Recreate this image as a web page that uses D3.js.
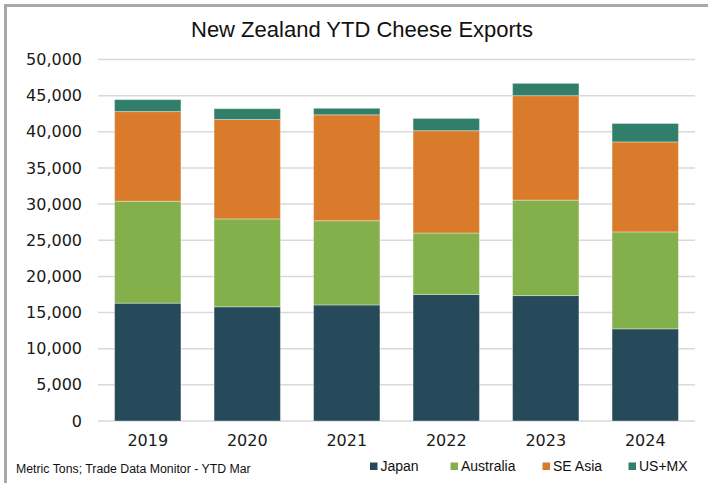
<!DOCTYPE html>
<html><head><meta charset="utf-8">
<script src="https://cdn.jsdelivr.net/npm/d3@7"></script>
<style>body{margin:0;background:#fff}svg{display:block}</style>
</head><body><svg id="c" width="708" height="483"></svg>
<script>
const years = ["2019","2020","2021","2022","2023","2024"];
const seriesNames = ["Japan","Australia","SE Asia","US+MX"];
const japan     = [16300, 15800, 16050, 17500, 17350, 12750];
const australia = [14100, 12150, 11650,  8500, 13200, 13400];
const seAsia    = [12400, 13750, 14650, 14150, 14450, 12450];
const usmx      = [ 1650,  1500,   900,  1700,  1700,  2550];
const yTicks = [0,5000,10000,15000,20000,25000,30000,35000,40000,45000,50000];
const colors = ["#264a5a","#84b04c","#da7b2c","#317f6a"];
const title = "New Zealand YTD Cheese Exports";
const note = "Metric Tons; Trade Data Monitor - YTD Mar";

const svg = d3.select("#c");
// frame
svg.append("path").attr("d","M5.5,490 V5.5 H720").attr("fill","none")
  .attr("stroke","#a9a9a9").attr("stroke-width",3);

const x = d3.scaleBand().domain(years).range([98,695]).paddingInner(0.333).paddingOuter(0.1665);
const y = d3.scaleLinear().domain([0,50000]).range([421,59.5]);

// gridlines
svg.append("g").selectAll("line").data(yTicks).join("line")
  .attr("x1",98).attr("x2",695).attr("y1",d=>y(d)).attr("y2",d=>y(d))
  .attr("stroke","#d9d9d9").attr("stroke-width",1.5);

// y axis labels
const yAxis = d3.axisLeft(y).tickValues(yTicks).tickFormat(d3.format(",")).tickSize(0).tickPadding(0);
const ga = svg.append("g").attr("transform","translate(82,0)").call(yAxis);
ga.select(".domain").remove();
ga.selectAll("text").attr("font-family","DejaVu Sans").attr("font-size",16).attr("fill","#1a1a1a");

// x axis labels
const xAxis = d3.axisBottom(x).tickSize(0).tickPadding(0);
const gx = svg.append("g").attr("transform","translate(0,435)").call(xAxis);
gx.select(".domain").remove();
gx.selectAll("text").attr("font-family","DejaVu Sans").attr("font-size",16).attr("fill","#1a1a1a");

// stacked bars
const table = years.map((yr,i)=>({year:yr,"Japan":japan[i],"Australia":australia[i],"SE Asia":seAsia[i],"US+MX":usmx[i]}));
const stack = d3.stack().keys(seriesNames)(table);
svg.append("g").selectAll("g").data(stack).join("g")
  .attr("fill",(d,i)=>colors[i])
  .selectAll("rect").data(d=>d).join("rect")
  .attr("x",d=>x(d.data.year)).attr("width",x.bandwidth())
  .attr("y",d=>y(d[1])).attr("height",d=>y(d[0])-y(d[1]))
  .attr("stroke","#ffffff").attr("stroke-opacity",0.35).attr("stroke-width",1);

// title
svg.append("text").attr("x",362).attr("y",37).attr("text-anchor","middle")
  .attr("font-family","Liberation Sans").attr("font-size",22).attr("fill","#111")
  .text(title);

// footnote
svg.append("text").attr("x",16).attr("y",472.5)
  .attr("font-family","Liberation Sans").attr("font-size",12.3).attr("fill","#111")
  .text(note);

// legend
const legX = [370,450.5,542.5,628.5];
const lg = svg.append("g").selectAll("g").data(seriesNames).join("g")
  .attr("transform",(d,i)=>`translate(${legX[i]},0)`);
lg.append("rect").attr("x",0).attr("y",462.5).attr("width",7.5).attr("height",7.5).attr("fill",(d,i)=>colors[i]);
lg.append("text").attr("x",10.5).attr("y",471).attr("font-family","Liberation Sans").attr("font-size",14).attr("fill","#111").text(d=>d);
</script></body></html>
